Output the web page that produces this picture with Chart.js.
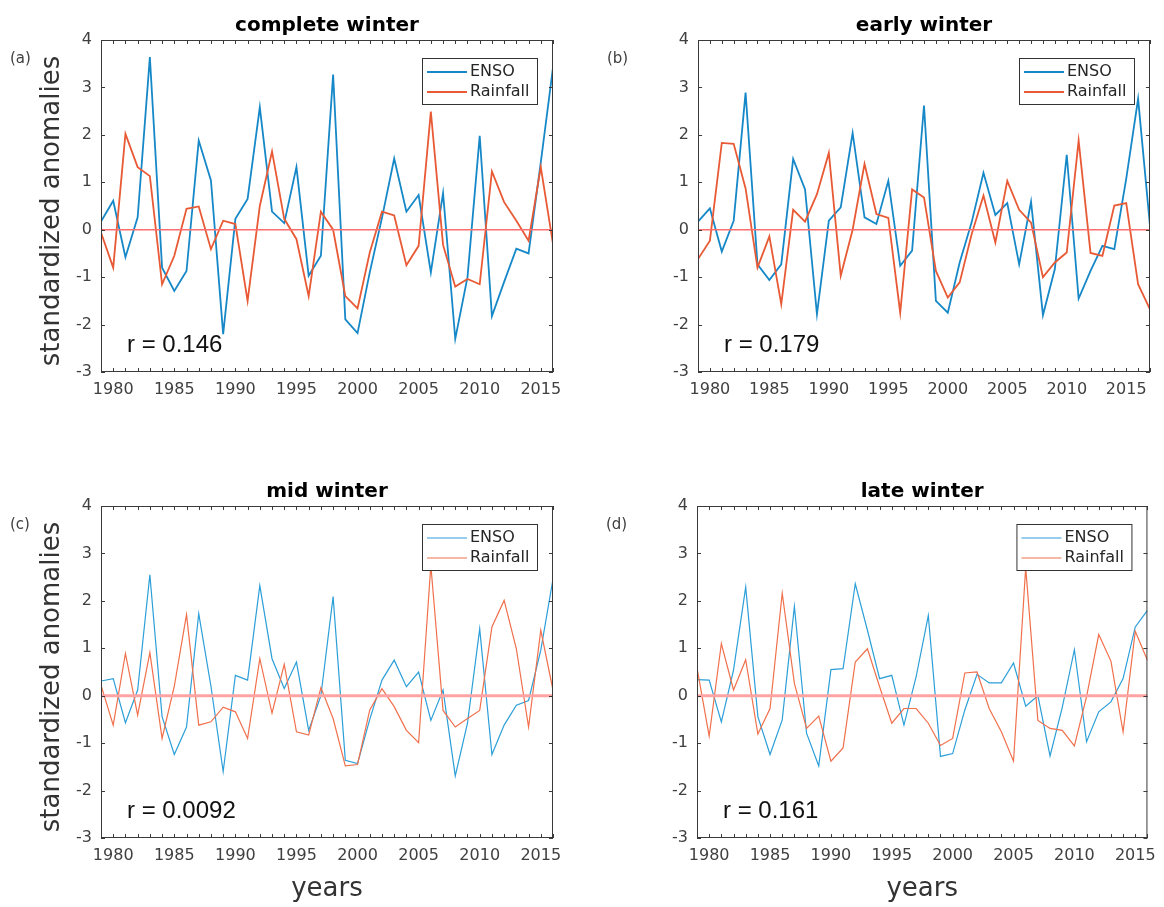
<!DOCTYPE html>
<html>
<head>
<meta charset="utf-8">
<script src="https://cdn.jsdelivr.net/npm/chart.js@4.4.1/dist/chart.umd.min.js"></script>
<style>
  body { margin: 0; background: #fff; }
  #fig { position: relative; width: 1164px; height: 907px; background: #fff; }
  #fig canvas { position: absolute; }
</style>
</head>
<body>
<div id="fig">
  <canvas id="pa" width="582" height="453" style="left:0;top:0"></canvas>
  <canvas id="pb" width="582" height="453" style="left:582px;top:0"></canvas>
  <canvas id="pc" width="582" height="454" style="left:0;top:453px"></canvas>
  <canvas id="pd" width="582" height="454" style="left:582px;top:453px"></canvas>
</div>
<script>
// years on the x axis
const yearsTo2016 = [1979, 1980, 1981, 1982, 1983, 1984, 1985, 1986, 1987, 1988, 1989, 1990, 1991,
  1992, 1993, 1994, 1995, 1996, 1997, 1998, 1999, 2000, 2001, 2002, 2003, 2004, 2005, 2006, 2007,
  2008, 2009, 2010, 2011, 2012, 2013, 2014, 2015, 2016];
const yearsTo2017 = [1979, 1980, 1981, 1982, 1983, 1984, 1985, 1986, 1987, 1988, 1989, 1990, 1991,
  1992, 1993, 1994, 1995, 1996, 1997, 1998, 1999, 2000, 2001, 2002, 2003, 2004, 2005, 2006, 2007,
  2008, 2009, 2010, 2011, 2012, 2013, 2014, 2015, 2016, 2017];

const xTickValues = [1980, 1985, 1990, 1995, 2000, 2005, 2010, 2015];
const xTickLabels = ['1980', '1985', '1990', '1995', '2000', '2005', '2010', '2015'];
const yTickValues = [-3, -2, -1, 0, 1, 2, 3, 4];
const yTickLabels = ['-3', '-2', '-1', '0', '1', '2', '3', '4'];

// (a) complete winter
const ensoComplete = [0.17, 0.61, -0.58, 0.26, 3.64, -0.8, -1.29, -0.87, 1.88, 1.04, -2.2, 0.23, 0.65,
  2.58, 0.38, 0.14, 1.32, -0.97, -0.55, 3.27, -1.89, -2.18, -0.9, 0.25, 1.5, 0.38, 0.73, -0.9, 0.77,
  -2.3, -1.0, 1.98, -1.82, -1.1, -0.4, -0.5, 1.42, 3.42];
const rainComplete = [-0.06, -0.8, 2.02, 1.32, 1.13, -1.15, -0.55, 0.44, 0.49, -0.41, 0.19, 0.12, -1.5,
  0.5, 1.65, 0.23, -0.2, -1.4, 0.38, 0.0, -1.4, -1.66, -0.48, 0.38, 0.3, -0.75, -0.34, 2.49, -0.32,
  -1.2, -1.04, -1.15, 1.23, 0.58, 0.19, -0.23, 1.32, -0.3];

// (b) early winter
const ensoEarly = [0.17, 0.45, -0.46, 0.19, 2.89, -0.73, -1.06, -0.73, 1.49, 0.85, -1.78, 0.19, 0.47,
  2.04, 0.26, 0.12, 1.03, -0.76, -0.44, 2.62, -1.5, -1.75, -0.69, 0.15, 1.2, 0.31, 0.56, -0.73, 0.59,
  -1.8, -0.83, 1.58, -1.45, -0.87, -0.34, -0.41, 1.07, 2.76, 0.08];
const rainEarly = [-0.62, -0.23, 1.83, 1.81, 0.87, -0.8, -0.14, -1.57, 0.42, 0.17, 0.75, 1.62, -0.97,
  0.0, 1.39, 0.33, 0.25, -1.75, 0.85, 0.68, -0.87, -1.43, -1.11, -0.1, 0.72, -0.27, 1.03, 0.42, 0.15,
  -1.0, -0.69, -0.48, 1.88, -0.49, -0.55, 0.51, 0.56, -1.15, -1.68];

// (c) mid winter
const ensoMid = [0.31, 0.36, -0.57, 0.12, 2.55, -0.44, -1.24, -0.66, 1.73, 0.2, -1.6, 0.43, 0.33,
  2.32, 0.78, 0.15, 0.71, -0.73, 0.0, 2.09, -1.36, -1.43, -0.5, 0.33, 0.75, 0.19, 0.5, -0.52, 0.12,
  -1.69, -0.58, 1.41, -1.24, -0.62, -0.2, -0.1, 0.96, 2.46];
const rainMid = [0.22, -0.62, 0.89, -0.41, 0.91, -0.9, 0.2, 1.71, -0.62, -0.55, -0.24, -0.34, -0.9,
  0.78, -0.37, 0.66, -0.76, -0.83, 0.17, -0.48, -1.48, -1.45, -0.3, 0.15, -0.23, -0.73, -0.99, 2.75,
  -0.31, -0.66, -0.48, -0.31, 1.45, 2.01, 0.99, -0.66, 1.38, 0.12];

// (d) late winter
const ensoLate = [0.34, 0.33, -0.55, 0.54, 2.29, -0.44, -1.24, -0.51, 1.88, -0.79, -1.48, 0.55, 0.57,
  2.36, 1.38, 0.36, 0.43, -0.62, 0.4, 1.69, -1.28, -1.22, -0.3, 0.45, 0.27, 0.27, 0.69, -0.22, 0.0,
  -1.27, -0.25, 0.97, -0.97, -0.34, -0.13, 0.36, 1.45, 1.8];
const rainLate = [0.59, -0.85, 1.1, 0.12, 0.76, -0.81, -0.27, 2.16, 0.26, -0.69, -0.43, -1.38, -1.1,
  0.71, 0.99, 0.19, -0.58, -0.27, -0.27, -0.58, -1.05, -0.9, 0.48, 0.5, -0.27, -0.76, -1.38, 2.7,
  -0.52, -0.69, -0.73, -1.06, -0.02, 1.29, 0.73, -0.76, 1.36, 0.75];

const panels = [
  { canvas: 'pa', qx: 0, qy: 0, qw: 582, qh: 453, plot: { left: 101, top: 40, right: 553, bottom: 372 },
    years: yearsTo2016, enso: ensoComplete, rain: rainComplete, title: 'complete winter', letter: '(a)',
    r: 'r = 0.146', yLabel: true, xLabel: false, bold: true },
  { canvas: 'pb', qx: 582, qy: 0, qw: 582, qh: 453, plot: { left: 698, top: 40, right: 1150, bottom: 372 },
    years: yearsTo2017, enso: ensoEarly, rain: rainEarly, title: 'early winter', letter: '(b)',
    r: 'r = 0.179', yLabel: false, xLabel: false, bold: true },
  { canvas: 'pc', qx: 0, qy: 453, qw: 582, qh: 454, plot: { left: 101, top: 506, right: 553, bottom: 838 },
    years: yearsTo2016, enso: ensoMid, rain: rainMid, title: 'mid winter', letter: '(c)',
    r: 'r = 0.0092', yLabel: true, xLabel: true, bold: false },
  { canvas: 'pd', qx: 582, qy: 453, qw: 582, qh: 454, plot: { left: 697, top: 506, right: 1150, bottom: 838 },
    years: yearsTo2016, enso: ensoLate, rain: rainLate, title: 'late winter', letter: '(d)',
    r: 'r = 0.161', yLabel: false, xLabel: true, bold: false }
];

const Y_AXIS_W = 40;
const X_AXIS_H = 40;
const axisColor = '#3a3a3a';
const textColor = '#404040';

// zero line, box, inward ticks, legend and the text around each panel
function panelPlugin(p) {
  return {
    id: 'panelDecor',
    afterDatasetsDraw(chart) {
      const { ctx, chartArea: a, scales: { x, y } } = chart;
      ctx.save();

      const y0 = y.getPixelForValue(0);
      ctx.strokeStyle = p.bold ? '#ff6e6e' : '#ffa3a3';
      ctx.lineWidth = p.bold ? 1.6 : 3;
      ctx.beginPath();
      ctx.moveTo(a.left, y0);
      ctx.lineTo(a.right, y0);
      ctx.stroke();

      ctx.strokeStyle = axisColor;
      ctx.lineWidth = 1;
      ctx.strokeRect(a.left + 0.5, a.top + 0.5, a.right - a.left - 1, a.bottom - a.top - 1);
      ctx.beginPath();
      p.years.forEach(yr => {
        const px = Math.round(x.getPixelForValue(yr)) + 0.5;
        ctx.moveTo(px, a.bottom);
        ctx.lineTo(px, a.bottom - 4);
        ctx.moveTo(px, a.top);
        ctx.lineTo(px, a.top + 4);
      });
      yTickValues.forEach(v => {
        const py = Math.round(y.getPixelForValue(v)) + 0.5;
        ctx.moveTo(a.left, py);
        ctx.lineTo(a.left + 4, py);
        ctx.moveTo(a.right, py);
        ctx.lineTo(a.right - 4, py);
      });
      ctx.stroke();

      // legend box
      const bw = 115, bh = 46;
      const bx = a.right - 16 - bw, by = a.top + 18;
      ctx.fillStyle = '#fff';
      ctx.fillRect(bx, by, bw, bh);
      ctx.strokeStyle = '#333';
      ctx.strokeRect(bx + 0.5, by + 0.5, bw, bh);
      chart.data.datasets.forEach((ds, i) => {
        const ly = by + 14 + i * 20;
        ctx.strokeStyle = ds.borderColor;
        ctx.lineWidth = ds.borderWidth;
        ctx.beginPath();
        ctx.moveTo(bx + 5, ly);
        ctx.lineTo(bx + 45, ly);
        ctx.stroke();
        ctx.fillStyle = '#262626';
        ctx.font = '16px "DejaVu Sans"';
        ctx.textBaseline = 'middle';
        ctx.textAlign = 'left';
        ctx.fillText(ds.label, bx + 48, ly);
      });

      ctx.textBaseline = 'alphabetic';
      ctx.fillStyle = '#111';
      ctx.font = '24px "Liberation Sans"';
      ctx.textAlign = 'left';
      ctx.fillText(p.r, a.left + 26, a.bottom - 20);

      ctx.fillStyle = '#000';
      ctx.font = 'bold 20px "DejaVu Sans"';
      ctx.textAlign = 'center';
      ctx.fillText(p.title, (a.left + a.right) / 2, a.top - 9);

      ctx.fillStyle = textColor;
      ctx.font = '15px "DejaVu Sans"';
      ctx.textAlign = 'left';
      ctx.fillText(p.letter, a.left - 91, a.top + 23);

      ctx.font = '26px "DejaVu Sans"';
      ctx.fillStyle = '#333';
      if (p.xLabel) {
        ctx.textAlign = 'center';
        ctx.fillText('years', (a.left + a.right) / 2, a.bottom + 58);
      }
      if (p.yLabel) {
        ctx.save();
        ctx.translate(a.left - 42, (a.top + a.bottom) / 2 + 5);
        ctx.rotate(-Math.PI / 2);
        ctx.textAlign = 'center';
        ctx.fillText('standardized anomalies', 0, 0);
        ctx.restore();
      }
      ctx.restore();
    }
  };
}

panels.forEach(p => {
  const pad = {
    left: p.plot.left - p.qx - Y_AXIS_W,
    top: p.plot.top - p.qy,
    right: p.qx + p.qw - p.plot.right,
    bottom: p.qy + p.qh - p.plot.bottom - X_AXIS_H
  };
  const lastYear = p.years[p.years.length - 1];
  new Chart(document.getElementById(p.canvas), {
    type: 'line',
    data: {
      datasets: [
        {
          label: 'ENSO',
          data: p.years.map((yr, i) => ({ x: yr, y: p.enso[i] })),
          borderColor: p.bold ? '#1688c8' : '#2c9fd8',
          borderWidth: p.bold ? 1.8 : 1.2,
          pointRadius: 0,
          tension: 0,
          order: 1
        },
        {
          label: 'Rainfall',
          data: p.years.map((yr, i) => ({ x: yr, y: p.rain[i] })),
          borderColor: p.bold ? '#e85a35' : '#f0704c',
          borderWidth: p.bold ? 1.8 : 1.2,
          pointRadius: 0,
          tension: 0,
          order: 0
        }
      ]
    },
    options: {
      responsive: false,
      animation: false,
      layout: { padding: pad },
      plugins: { legend: { display: false }, tooltip: { enabled: false } },
      scales: {
        x: {
          type: 'linear',
          min: p.years[0],
          max: lastYear,
          grid: { display: false, drawTicks: false },
          border: { display: false },
          ticks: {
            autoSkip: false,
            maxRotation: 0,
            padding: 8,
            color: textColor,
            font: { family: 'DejaVu Sans', size: 16 },
            callback: (v, i) => xTickLabels[i]
          },
          afterBuildTicks: s => { s.ticks = xTickValues.map(v => ({ value: v })); },
          afterFit: s => { s.height = X_AXIS_H; }
        },
        y: {
          min: -3,
          max: 4,
          grid: { display: false, drawTicks: false },
          border: { display: false },
          ticks: {
            padding: 9,
            color: textColor,
            font: { family: 'DejaVu Sans', size: 16 },
            callback: (v, i) => yTickLabels[i]
          },
          afterBuildTicks: s => { s.ticks = yTickValues.map(v => ({ value: v })); },
          afterFit: s => { s.width = Y_AXIS_W; }
        }
      }
    },
    plugins: [panelPlugin(p)]
  });
});
</script>
</body>
</html>
